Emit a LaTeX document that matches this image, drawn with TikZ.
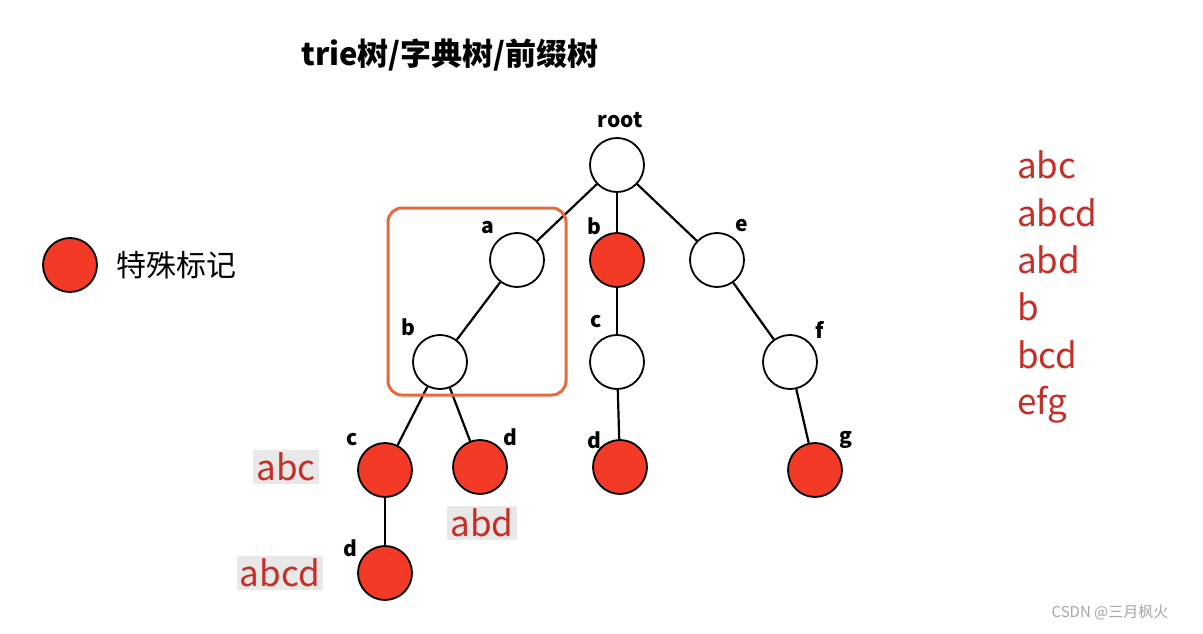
\documentclass[tikz,border=0pt]{standalone}
\usepackage{fontspec}
\setmainfont{Noto Sans CJK SC}
\begin{document}
\begin{tikzpicture}[x=1pt,y=-1pt,
  nd/.style={circle,draw=black,line width=1.8pt,minimum size=54pt,inner sep=0pt,fill=white},
  rd/.style={nd,fill=nred},
  lb/.style={font=\bfseries\fontsize{21}{21}\selectfont},
  wd/.style={font=\fontsize{35}{35}\selectfont,text=tred,inner sep=1pt},
  wbg/.style={wd,fill=gray!18,inner sep=3pt},
  ed/.style={line width=2.2pt}]
\definecolor{nred}{HTML}{F23A26}
\definecolor{tred}{HTML}{C42F28}
\definecolor{obox}{HTML}{E66A3C}
\useasboundingbox (0,0) rectangle (1203,634);
\fill[white] (0,0) rectangle (1203,634);
\node[font=\bfseries\fontsize{31}{31}\selectfont] (t) at (450,55) {trie树/字典树/前缀树};
\node[nd] (root) at (617,165) {};
\node[nd] (a) at (517,260) {};
\node[rd] (b) at (617,260) {};
\node[nd] (e) at (717,260) {};
\node[nd] (ab) at (440,362) {};
\node[nd] (bc) at (617,362) {};
\node[nd] (ef) at (790,362) {};
\node[rd] (abc) at (385,470) {};
\node[rd] (abd) at (480,467) {};
\node[rd] (bcd) at (620,467) {};
\node[rd] (efg) at (815,470) {};
\node[rd] (abcd) at (385,573) {};
\foreach \p/\q in {root/a,root/b,root/e,a/ab,b/bc,e/ef,ab/abc,ab/abd,bc/bcd,ef/efg,abc/abcd}
  \draw[ed] (\p) -- (\q);
\draw[obox,line width=3pt,rounded corners=14pt] (388,208) rectangle (566,395);
\node[lb] (l0) at (620,120) {root};
\node[lb] (l1) at (488,228) {a};
\node[lb] (l2) at (594,226) {b};
\node[lb] (l3) at (742,226) {e};
\node[lb] (l4) at (408,327) {b};
\node[lb] (l5) at (596,322) {c};
\node[lb] (l6) at (820,330) {f};
\node[lb] (l7) at (352,440) {c};
\node[lb] (l8) at (510,437) {d};
\node[lb] (l9) at (594,440) {d};
\node[lb] (l10) at (846,440) {g};
\node[lb] (l11) at (350,548) {d};
\node[wbg] (w1) at (286,467) {abc};
\node[wbg] (w2) at (482,523) {abd};
\node[wbg] (w3) at (280,573) {abcd};
\node[rd] (leg) at (70,265) {};
\node[font=\fontsize{30}{30}\selectfont,anchor=west] (legt) at (113,265) {特殊标记};
\foreach \w/\y in {abc/165,abcd/213,abd/260,b/307,bcd/355,efg/405}
  \node[wd,anchor=west] (r\w) at (1016,\y) {\w};
\node[font=\fontsize{15}{15}\selectfont,text=gray!70] (wm) at (1110,612) {CSDN @三月枫火};
\end{tikzpicture}
\end{document}
